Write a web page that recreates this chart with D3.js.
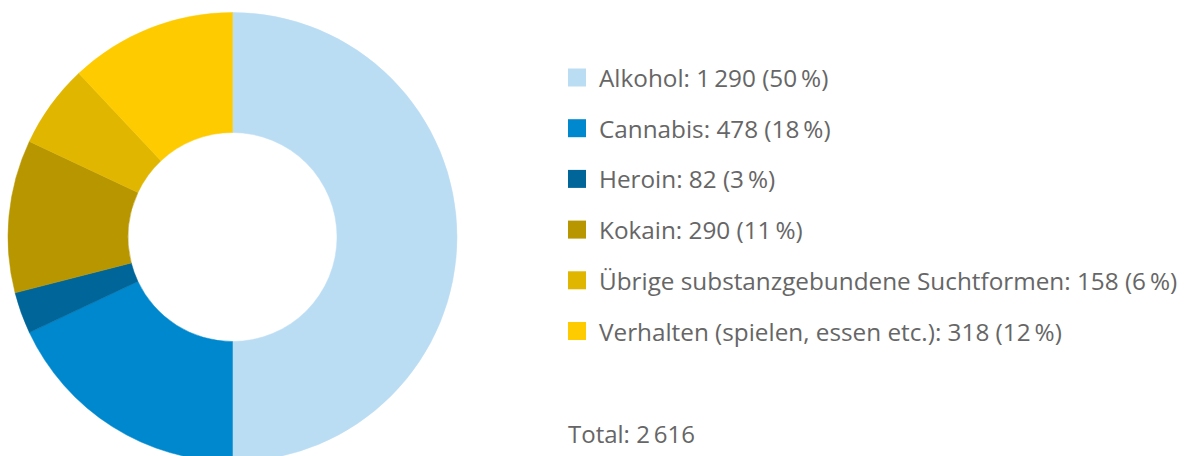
<!DOCTYPE html>
<html>
<head>
<meta charset="utf-8">
<script src="https://cdn.jsdelivr.net/npm/d3@7"></script>
<style>
  body { margin: 0; background: #fff; }
  text { font-family: "Open Sans", sans-serif; fill: #666666; }
</style>
</head>
<body>
<div id="chart"></div>
<script>
var categories = ["Alkohol", "Cannabis", "Heroin", "Kokain",
  "Übrige substanzgebundene Suchtformen", "Verhalten (spielen, essen etc.)"];
var counts = [1290, 478, 82, 290, 158, 318];
var percents = [50, 18, 3, 11, 6, 12];
var colors = ["#bbddf4", "#0088cf", "#006599", "#b89600", "#e0b600", "#fecb00"];
var total = 2616;

var width = 1184,
  height = 456,
  cx = 232.5,
  cy = 237,
  radius = 224.5,
  innerRadius = 104.5;

var data = categories.map(function(c, i) {
  return { label: c, count: counts[i], pct: percents[i], color: colors[i] };
});

// thin space thousands separator, like the original
function fmt(n) {
  return d3.format(",")(n).replace(/,/g, "\u2009");
}

var svg = d3.select("#chart").append("svg")
    .attr("width", width)
    .attr("height", height);

var pie = d3.pie()
    .sort(null)
    .value(function(d) { return d.pct; });

var arc = d3.arc()
    .innerRadius(innerRadius)
    .outerRadius(radius);

svg.append("g")
    .attr("transform", "translate(" + cx + "," + cy + ")")
  .selectAll("path")
    .data(pie(data))
    .enter().append("path")
    .attr("fill", function(d) { return d.data.color; })
    .attr("stroke", function(d) { return d.data.color; })
    .attr("stroke-width", 0.5)
    .attr("d", arc);

var y = d3.scalePoint()
    .domain(categories)
    .range([77.5, 331]);

var legend = svg.append("g")
    .attr("transform", "translate(568,0)");

var rows = legend.selectAll("g")
    .data(data)
    .enter().append("g")
    .attr("transform", function(d) { return "translate(0," + y(d.label) + ")"; });

rows.append("rect")
    .attr("x", 0)
    .attr("y", -9)
    .attr("width", 18)
    .attr("height", 18)
    .attr("fill", function(d) { return d.color; });

rows.append("text")
    .attr("x", 31)
    .attr("y", 9.5)
    .style("font-size", "24.3px")
    .text(function(d) {
      return d.label + ": " + fmt(d.count) + " (" + d.pct + "\u2009%)";
    });

legend.append("text")
    .attr("x", 0)
    .attr("y", 443)
    .style("font-size", "24px")
    .text("Total: " + fmt(total));
</script>
</body>
</html>
